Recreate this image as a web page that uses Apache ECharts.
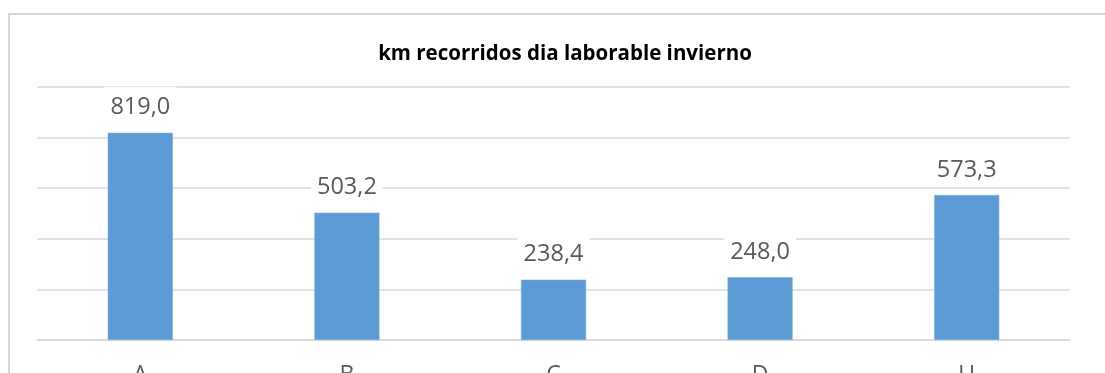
<!DOCTYPE html>
<html><head><meta charset="utf-8">
<script src="https://cdn.jsdelivr.net/npm/echarts@6/dist/echarts.min.js"></script>
<style>html,body{margin:0;padding:0;background:#fff;}#c{width:1105px;height:373px;}</style>
</head><body><div id="c"></div>
<script>
const categories = ['A', 'B', 'C', 'D', 'U'];
const kmValues = [819.0, 503.2, 238.4, 248.0, 573.3];
const chartTitle = 'km recorridos dia laborable invierno';

const chart = echarts.init(document.getElementById('c'), null, {renderer: 'canvas'});
chart.setOption({
  animation: false,
  backgroundColor: '#fff',
  title: {
    text: chartTitle,
    left: 560, top: 39, textAlign: 'center',
    textStyle: {fontFamily: 'Open Sans', fontWeight: 'bold', fontSize: 20.5, color: '#000'}
  },
  graphic: [{
    type: 'rect', shape: {x: 9, y: 14, width: 1200, height: 500},
    style: {fill: 'none', stroke: '#d6d6d6', lineWidth: 2}, silent: true, z: -1
  }],
  grid: {left: 37, right: 35, top: 87, bottom: 33, outerBoundsMode: 'none', containLabel: false},
  xAxis: {
    type: 'category', data: categories,
    axisLine: {lineStyle: {color: '#d9d9d9', width: 1.5}},
    axisTick: {show: false},
    axisLabel: {color: '#595959', fontFamily: 'Open Sans', fontSize: 23, margin: 24}
  },
  yAxis: {
    type: 'value', min: 0, max: 1000, interval: 200,
    axisLabel: {show: false}, axisLine: {show: false}, axisTick: {show: false},
    splitLine: {lineStyle: {color: '#d9d9d9', width: 1.5}}
  },
  series: [{
    type: 'bar', data: kmValues, barWidth: '31.5%',
    itemStyle: {color: '#5b9bd5', borderColor: '#7fb0df', borderWidth: 0.5},
    label: {
      show: true, position: 'top', distance: 11,
      formatter: p => p.value.toFixed(1).replace('.', ','),
      color: '#595959', fontFamily: 'Open Sans', fontSize: 23.5,
      backgroundColor: '#fff', padding: [9, 6, 2, 6]
    }
  }]
});
</script></body></html>
